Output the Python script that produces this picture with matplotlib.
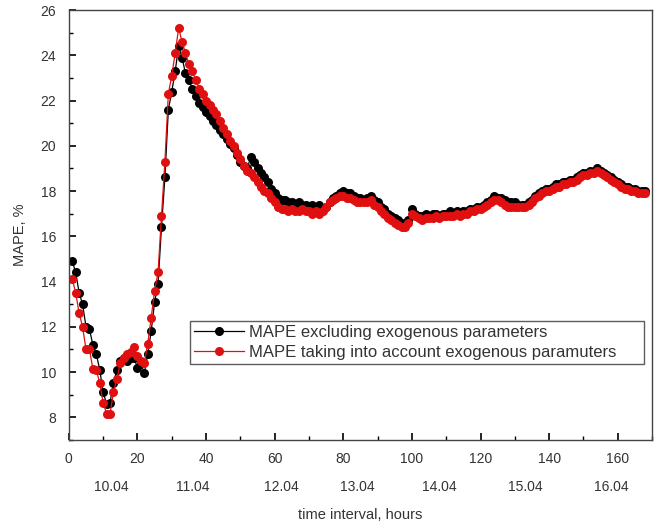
import numpy as np
import matplotlib
matplotlib.use("Agg")
import matplotlib.pyplot as plt
from matplotlib.ticker import MultipleLocator
import matplotlib.transforms as mtransforms

plt.rcParams['font.family'] = ['Liberation Sans', 'DejaVu Sans']

# horas 1..168
horas = np.arange(1, 169)

# MAPE sin parámetros exógenos (negro)
mape_sin = [
    14.9, 14.4, 13.5, 13.0, 12.0, 11.9, 11.2, 10.8, 10.1, 9.1,
    8.6, 8.65, 9.5, 10.1, 10.5, 10.6, 10.5, 10.6, 10.6, 10.2,
    10.4, 9.95, 10.8, 11.8, 13.1, 13.9, 16.4, 18.6, 21.6, 22.4,
    23.3, 24.4, 23.9, 23.2, 22.9, 22.5, 22.2, 21.9, 21.7, 21.5,
    21.3, 21.1, 20.9, 20.7, 20.5, 20.3, 20.1, 19.9, 19.6, 19.3,
    19.1, 19.0, 19.5, 19.3, 19.0, 18.8, 18.6, 18.4, 18.1, 17.9,
    17.7, 17.6, 17.6, 17.5, 17.5, 17.4, 17.5, 17.4, 17.4, 17.3,
    17.4, 17.3, 17.4, 17.2, 17.3, 17.5, 17.7, 17.8, 17.9, 18.0,
    17.9, 17.9, 17.8, 17.7, 17.7, 17.6, 17.7, 17.8, 17.6, 17.5,
    17.3, 17.2, 17.0, 16.9, 16.8, 16.7, 16.6, 16.5, 16.7, 17.2,
    17.0, 16.9, 16.9, 17.0, 16.9, 17.0, 17.0, 16.9, 17.0, 17.0,
    17.1, 17.0, 17.1, 17.0, 17.1, 17.1, 17.2, 17.2, 17.3, 17.3,
    17.4, 17.5, 17.6, 17.8, 17.7, 17.7, 17.6, 17.5, 17.5, 17.5,
    17.4, 17.4, 17.4, 17.5, 17.6, 17.8, 17.9, 18.0, 18.1, 18.1,
    18.2, 18.3, 18.3, 18.4, 18.4, 18.5, 18.5, 18.6, 18.7, 18.8,
    18.8, 18.9, 18.9, 19.0, 18.9, 18.8, 18.7, 18.6, 18.5, 18.4,
    18.3, 18.2, 18.2, 18.1, 18.1, 18.0, 18.0, 18.0,
]

# MAPE con parámetros exógenos (rojo)
mape_con = [
    14.1, 13.5, 12.6, 12.0, 11.0, 11.0, 10.15, 10.1, 9.5, 8.65,
    8.15, 8.15, 9.1, 9.7, 10.4, 10.6, 10.8, 10.9, 11.1, 10.7,
    10.5, 10.4, 11.25, 12.4, 13.6, 14.4, 16.9, 19.3, 22.3, 23.1,
    24.1, 25.2, 24.6, 24.1, 23.6, 23.3, 22.9, 22.5, 22.3, 22.0,
    21.8, 21.6, 21.4, 21.1, 20.8, 20.5, 20.2, 20.0, 19.7, 19.4,
    19.1, 18.9, 18.8, 18.6, 18.4, 18.2, 18.0, 17.9, 17.7, 17.5,
    17.3, 17.2, 17.2, 17.1, 17.2, 17.1, 17.1, 17.2, 17.1, 17.1,
    17.0, 17.1, 17.0, 17.1, 17.3, 17.5, 17.6, 17.7, 17.8, 17.8,
    17.7, 17.7, 17.6, 17.5, 17.5, 17.5, 17.5, 17.6, 17.4, 17.3,
    17.1, 17.0, 16.8, 16.7, 16.6, 16.5, 16.4, 16.4, 16.6, 17.0,
    16.9, 16.8, 16.7, 16.8, 16.8, 16.8, 16.9, 16.8, 16.9, 16.9,
    16.9, 16.9, 17.0, 16.9, 17.0, 17.0, 17.1, 17.1, 17.2, 17.2,
    17.3, 17.4, 17.5, 17.6, 17.6, 17.5, 17.4, 17.3, 17.3, 17.3,
    17.3, 17.3, 17.3, 17.4, 17.5, 17.7, 17.8, 17.9, 18.0, 18.0,
    18.1, 18.2, 18.2, 18.3, 18.3, 18.4, 18.4, 18.5, 18.6, 18.7,
    18.7, 18.8, 18.8, 18.9, 18.8, 18.7, 18.6, 18.5, 18.4, 18.3,
    18.2, 18.1, 18.1, 18.0, 18.0, 17.9, 17.9, 17.9,
]

# Etiquetas de días y su centro en horas
dias = ['10.04', '11.04', '12.04', '13.04', '14.04', '15.04', '16.04']
centro_dias = [12.5, 36, 62, 84, 108, 133, 158]

color_texto = '#333333'

fig = plt.figure(figsize=(6.62, 5.30), dpi=100)
ax = fig.add_axes([0.104, 0.170, 0.881, 0.811])

ax.plot(horas, mape_sin, color='black', lw=0.9, marker='o', markersize=6.5,
        markeredgewidth=0, label='MAPE excluding exogenous parameters')
ax.plot(horas, mape_con, color='#e01010', lw=0.9, marker='o', markersize=6.5,
        markeredgewidth=0, label='MAPE taking into account exogenous paramuters')

ax.set_xlim(0, 170)
ax.set_ylim(7, 26)
ax.xaxis.set_major_locator(MultipleLocator(20))
ax.xaxis.set_minor_locator(MultipleLocator(10))
ax.yaxis.set_major_locator(MultipleLocator(2))
ax.yaxis.set_minor_locator(MultipleLocator(1))
ax.tick_params(which='both', direction='in', labelsize=10, labelcolor=color_texto,
               top=False, right=False)
ax.tick_params(which='major', length=5, width=1.2, pad=9)
ax.tick_params(which='minor', length=3, width=1.0)
for s in ax.spines.values():
    s.set_color('#444444')
    s.set_linewidth(1.0)

ax.set_ylabel('MAPE, %', fontsize=10.5, color=color_texto)
ax.yaxis.set_label_coords(-0.072, 0.477)
ax.set_xlabel('time interval, hours', fontsize=10.5, color=color_texto, labelpad=30)

trans = mtransforms.blended_transform_factory(ax.transData, ax.transAxes)
for d, c in zip(dias, centro_dias):
    ax.text(c, -0.11, d, transform=trans, ha='center', va='center',
            fontsize=10, color=color_texto)

leg = ax.legend(loc='upper left', bbox_to_anchor=(0.207, 0.167, 0.78, 0.11),
                mode='expand', fontsize=12, frameon=True, fancybox=False,
                borderpad=0.25, handlelength=3.0, handletextpad=0.3,
                labelspacing=0.3, borderaxespad=0)
leg.get_frame().set_edgecolor('#333333')
leg.get_frame().set_linewidth(1.0)
for t in leg.get_texts():
    t.set_color(color_texto)

fig.savefig('out.png', dpi=100)
